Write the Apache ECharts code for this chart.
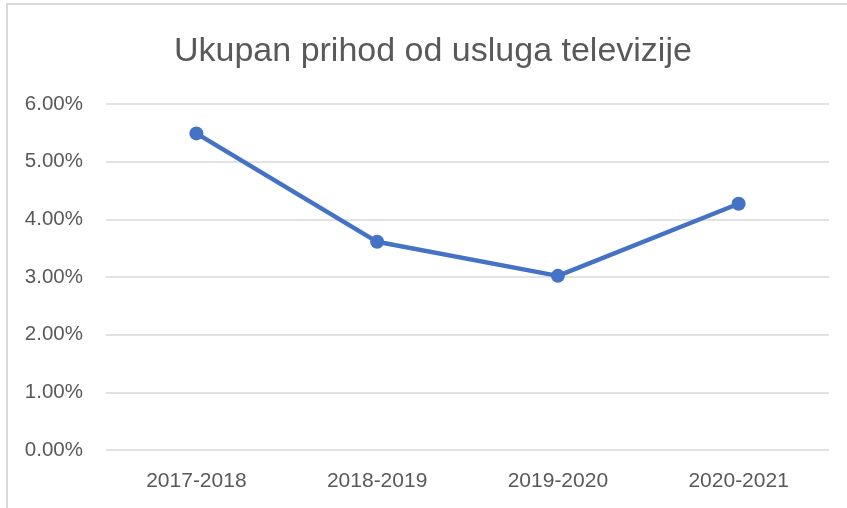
<!DOCTYPE html>
<html>
<head>
<meta charset="utf-8">
<script src="https://cdn.jsdelivr.net/npm/echarts@6/dist/echarts.min.js"></script>
<style>
  html, body { margin: 0; padding: 0; background: #fff; }
  #frame { position: absolute; left: 6px; top: 3px; width: 860px; height: 520px; border: 2px solid #d9d9d9; box-sizing: border-box; }
  #chart { position: absolute; left: 0; top: 0; width: 847px; height: 508px; }
</style>
</head>
<body>
<div id="frame"></div>
<div id="chart"></div>
<script>
const chartTitle = 'Ukupan prihod od usluga televizije'
const categories = ['2017-2018', '2018-2019', '2019-2020', '2020-2021']
const revenueShare = [5.49, 3.61, 3.02, 4.27]

const chart = echarts.init(document.getElementById('chart'))
chart.setOption({
  backgroundColor: 'transparent',
  animation: false,
  textStyle: { fontFamily: 'Liberation Sans' },
  title: {
    text: chartTitle,
    left: 174,
    top: 35,
    padding: 0,
    textStyle: {
      fontSize: 34,
      fontWeight: 'normal',
      color: '#595959',
      fontFamily: 'Liberation Sans'
    }
  },
  grid: {
    left: 106,
    right: 18,
    top: 104,
    bottom: 58
  },
  xAxis: {
    type: 'category',
    data: categories,
    axisLine: { show: false },
    axisTick: { show: false },
    axisLabel: {
      fontSize: 21,
      color: '#595959',
      margin: 21
    }
  },
  yAxis: {
    type: 'value',
    min: 0,
    max: 6,
    interval: 1,
    axisLine: { show: false },
    axisTick: { show: false },
    axisLabel: {
      fontSize: 20.5,
      color: '#595959',
      margin: 23,
      formatter: v => v.toFixed(2) + '%'
    },
    splitLine: {
      lineStyle: { color: '#d9d9d9', width: 1.5 }
    }
  },
  series: [{
    name: chartTitle,
    type: 'line',
    data: revenueShare,
    symbol: 'circle',
    symbolSize: 14,
    lineStyle: { color: '#4472c4', width: 4.5 },
    itemStyle: { color: '#4472c4' }
  }]
})
</script>
</body>
</html>
